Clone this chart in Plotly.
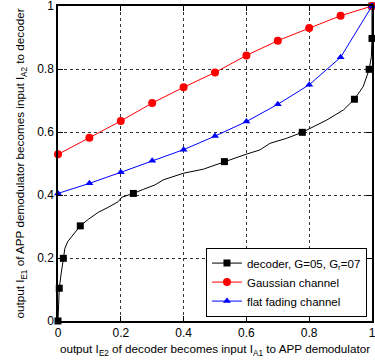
import plotly.graph_objects as go

# Gaussian channel (red)
gauss_x = [0.0, 0.1, 0.2, 0.3, 0.4, 0.5, 0.6, 0.7, 0.8, 0.9, 1.0]
gauss_y = [0.529, 0.582, 0.635, 0.692, 0.742, 0.789, 0.843, 0.890, 0.930, 0.969, 1.0]

# flat fading channel (blue)
fade_x = [0.0, 0.1, 0.2, 0.3, 0.4, 0.5, 0.6, 0.7, 0.8, 0.9, 1.0]
fade_y = [0.405, 0.437, 0.472, 0.509, 0.544, 0.587, 0.633, 0.688, 0.750, 0.837, 1.0]

# decoder curve (black), dense line
dec_curve_x = [0.0, 0.004, 0.010, 0.017, 0.022, 0.031, 0.043, 0.071, 0.097, 0.128, 0.160,
               0.192, 0.203, 0.240, 0.272, 0.309, 0.335, 0.399, 0.463, 0.530, 0.601,
               0.643, 0.675, 0.728, 0.778, 0.856, 0.909, 0.944, 0.972, 0.991, 0.998, 1.0, 1.0]
dec_curve_y = [0.0, 0.104, 0.150, 0.199, 0.231, 0.252, 0.268, 0.302, 0.323, 0.345, 0.361,
               0.379, 0.393, 0.405, 0.418, 0.432, 0.448, 0.469, 0.482, 0.506, 0.530,
               0.543, 0.564, 0.580, 0.599, 0.638, 0.670, 0.704, 0.744, 0.799, 0.839, 0.897, 1.0]
# decoder markers
dec_mark_x = [0.0, 0.004, 0.017, 0.071, 0.240, 0.530, 0.778, 0.944, 0.991, 1.0, 1.0]
dec_mark_y = [0.0, 0.104, 0.199, 0.302, 0.405, 0.506, 0.599, 0.704, 0.799, 0.897, 1.0]

tick_vals = [0, 0.2, 0.4, 0.6, 0.8, 1]
tick_text = ["0", "0.2", "0.4", "0.6", "0.8", "1"]

fig = go.Figure()
fig.add_trace(go.Scatter(x=dec_curve_x, y=dec_curve_y, mode="lines",
                         line=dict(color="black", width=1), showlegend=False,
                         cliponaxis=False, hoverinfo="skip"))
fig.add_trace(go.Scatter(x=dec_mark_x, y=dec_mark_y, mode="markers",
                         marker=dict(symbol="square", size=7, color="black"),
                         showlegend=False, cliponaxis=False))
fig.add_trace(go.Scatter(x=[None], y=[None], mode="lines+markers",
                         name="decoder, G=05, G<sub>r</sub>=07",
                         line=dict(color="black", width=1),
                         marker=dict(symbol="square", size=7, color="black")))
fig.add_trace(go.Scatter(x=gauss_x, y=gauss_y, mode="lines+markers", name="Gaussian channel",
                         line=dict(color="red", width=1),
                         marker=dict(symbol="circle", size=8, color="red"),
                         cliponaxis=False))
fig.add_trace(go.Scatter(x=fade_x, y=fade_y, mode="lines+markers", name="flat fading channel",
                         line=dict(color="blue", width=1),
                         marker=dict(symbol="triangle-up", size=7, color="blue"),
                         cliponaxis=False))

axis_common = dict(range=[0, 1], tickvals=tick_vals, ticktext=tick_text,
                   showgrid=True, gridcolor="#333", griddash="dot", gridwidth=1,
                   showline=True, linecolor="black", linewidth=1.5, mirror="ticks",
                   ticks="inside", ticklen=5, tickcolor="black", zeroline=False,
                   ticklabeloverflow="allow", automargin=False,
                   tickfont=dict(size=12, color="black", family="Liberation Sans"))

fig.update_xaxes(**axis_common,
                 title=dict(text="output I<sub>E2</sub> of decoder becomes input I<sub>A1</sub> to APP demodulator",
                            font=dict(size=11.7, color="black", family="Liberation Sans"), standoff=6))
fig.update_yaxes(**axis_common,
                 title=dict(text="output I<sub>E1</sub> of APP demodulator becomes input I<sub>A2</sub> to decoder",
                            font=dict(size=11.7, color="black", family="Liberation Sans"), standoff=10))

fig.update_layout(
    width=375, height=364,
    margin=dict(l=58, r=3, t=6, b=43),
    plot_bgcolor="white", paper_bgcolor="white",
    font=dict(family="Liberation Sans", color="black"),
    legend=dict(x=0.984, y=0.014, xanchor="right", yanchor="bottom",
                bgcolor="white", bordercolor="black", borderwidth=1,
                font=dict(size=11.5, color="black", family="Liberation Sans"),
                tracegroupgap=0),
)

fig.write_html("out.html")
